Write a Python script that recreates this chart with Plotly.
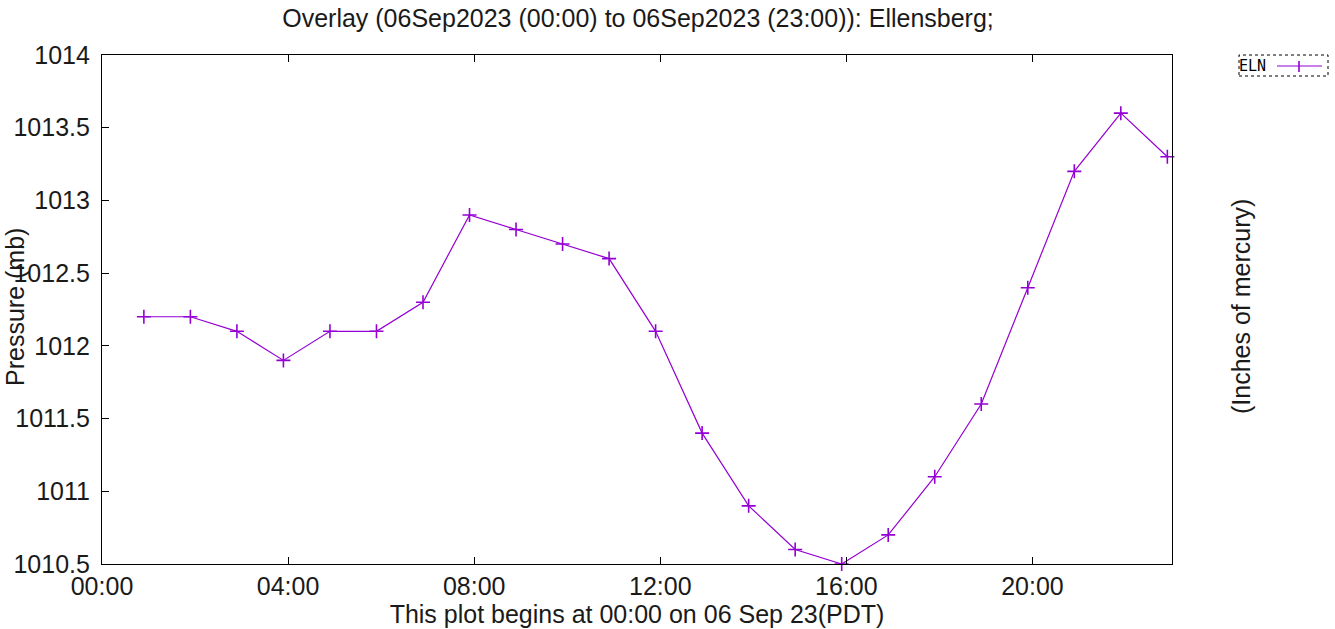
import plotly.graph_objects as go

# Hourly pressure readings, Ellensburg (ELN), 06 Sep 2023
obs_times = ["2023-09-06 %02d:54" % h for h in range(0, 23)]
pressure_mb = [1012.2, 1012.2, 1012.1, 1011.9, 1012.1, 1012.1, 1012.3, 1012.9,
               1012.8, 1012.7, 1012.6, 1012.1, 1011.4, 1010.9, 1010.6, 1010.5,
               1010.7, 1011.1, 1011.6, 1012.4, 1013.2, 1013.6, 1013.3]

x_range = ["2023-09-06 00:00", "2023-09-06 23:00"]
y_tick_vals = [1010.5, 1011, 1011.5, 1012, 1012.5, 1013, 1013.5, 1014]
y_tick_text = ["1010.5", "1011", "1011.5", "1012", "1012.5", "1013", "1013.5", "1014"]

series_name = "ELN"
color = "#9400d3"
font = "Liberation Sans, Arial, sans-serif"
text_color = "#1a1a1a"

fig = go.Figure()
fig.add_trace(go.Scatter(
    x=obs_times, y=pressure_mb, mode="lines+markers", name=series_name,
    line=dict(color=color, width=1.2),
    marker=dict(symbol="cross-thin", size=10, line=dict(color=color, width=1.6)),
    showlegend=False, cliponaxis=False,
))

W, H = 1335, 629
L, R, T, B = 102, 163, 55, 65
pw, ph = W - L - R, H - T - B


def px(xp):
    return (xp - L) / pw


def py(yp):
    return (H - B - yp) / ph


fig.update_layout(
    width=W, height=H,
    margin=dict(l=L, r=R, t=T, b=B, autoexpand=False),
    paper_bgcolor="white", plot_bgcolor="white",
    font=dict(family=font, color=text_color, size=25),
    title=dict(text="Overlay (06Sep2023 (00:00) to 06Sep2023 (23:00)): Ellensberg;",
               xref="container", x=638 / W, xanchor="center",
               yref="container", y=1 - 18 / H, yanchor="middle",
               font=dict(size=25, family=font, color=text_color)),
    xaxis=dict(type="date", range=x_range, tick0="2023-09-06 00:00",
               dtick=4 * 3600 * 1000, tickformat="%H:%M",
               ticks="inside", ticklen=7, tickwidth=1, tickcolor="black",
               showline=True, linecolor="black", linewidth=1.2, mirror="ticks",
               showgrid=False, zeroline=False, tickfont=dict(size=25),
               ticklabelstandoff=0,
               title=dict(text="This plot begins at 00:00 on 06 Sep 23(PDT)",
                          font=dict(size=25), standoff=0)),
    yaxis=dict(range=[1010.5, 1014], tickvals=y_tick_vals, ticktext=y_tick_text,
               ticks="inside", ticklen=7, tickwidth=1, tickcolor="black",
               showline=True, linecolor="black", linewidth=1.2, mirror=True,
               showgrid=False, zeroline=False, tickfont=dict(size=25),
               ticklabelstandoff=6),
)

annotations = [
    dict(text="Pressure (mb)", textangle=-90, xref="paper", yref="paper",
         x=px(15), y=py(307), xanchor="center", yanchor="middle",
         showarrow=False, font=dict(size=25, family=font, color=text_color)),
    dict(text="(Inches of mercury)", textangle=-90, xref="paper", yref="paper",
         x=px(1241), y=py(307), xanchor="center", yanchor="middle",
         showarrow=False, font=dict(size=25, family=font, color=text_color)),
    dict(text=series_name, xref="paper", yref="paper",
         x=px(1237), y=py(66), xanchor="left", yanchor="middle",
         showarrow=False, font=dict(size=15, family="DejaVu Sans Mono, monospace", color="black")),
]
fig.update_layout(annotations=annotations)

# Legend frame and sample line with marker
fig.add_shape(type="rect", xref="paper", yref="paper",
              x0=px(1239), x1=px(1328), y0=py(76), y1=py(55),
              line=dict(color="black", width=1, dash="dot"))
fig.add_shape(type="line", xref="paper", yref="paper",
              x0=px(1277), x1=px(1322), y0=py(66), y1=py(66),
              line=dict(color=color, width=1.2))
fig.add_shape(type="line", xref="paper", yref="paper",
              x0=px(1299), x1=px(1299), y0=py(61), y1=py(72),
              line=dict(color=color, width=1.6))

fig.write_html("out.html")
